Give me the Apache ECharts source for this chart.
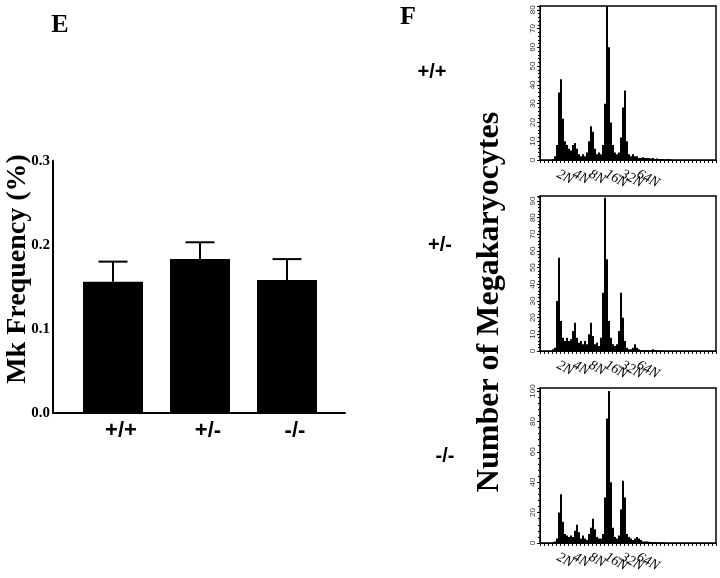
<!DOCTYPE html>
<html>
<head>
<meta charset="utf-8">
<script src="https://cdn.jsdelivr.net/npm/echarts@6/dist/echarts.min.js"></script>
<style>html,body{margin:0;padding:0;background:#fff;}#c{width:720px;height:578px;}</style>
</head>
<body>
<div id="c"></div>
<script>
// ---- Panel E data ----
const categories = ['+/+', '+/-', '-/-'];
const mkFrequency = [0.156, 0.183, 0.158];
const mkError = [0.024, 0.020, 0.025];

// ---- Panel F data (ploidy histograms, 2-px channels) ----
const ploidyLabels = ['2N', '4N', '8N', '16N', '32N', '64N'];
const ploidyBins = [10, 18, 26, 34, 42, 50];
const histWT = [0,0,0,0,0,0,0.5,2,8,36,43,22,10,8,6,5,8,9,6,3,2,3,2,4,10,18,15,6,3,4,3,8,30,82,60,20,8,4,3,4,12,28,37,10,3,2,3,2,2,1,1,1.5,1,1,1,0.8,1,0.5,0.8,0.5,0.5,0.5,0.3,0.5,0.3,0.3,
  0,0,0,0,0,0,0,0,0,0,0,0,0,0,0,0,0,0,0,0,0,0];
const histHet = [0,0,0,0,0,0,1,2,30,56,18,8,6,8,6,7,12,17,8,5,6,4,6,4,10,17,9,4,5,3,8,35,92,55,18,8,4,3,4,12,35,20,6,2,1,1,2,4,2,1,0.5,0.5,0.5,0.3,0.3,0.3,1,0.3,0.3,0.3,0.3,
  0,0,0,0,0,0,0,0,0,0,0,0,0,0,0,0,0,0,0,0,0,0,0,0,0,0,0];
const histKO = [0,0,0,0,0,0,0.5,1,3,20,32,14,6,5,4,5,4,8,12,7,3,5,3,2,6,10,16,9,4,3,3,6,30,82,100,40,10,4,3,5,22,41,30,6,4,3,2,3,4,3,2,1,1,1,0.8,0.5,0.5,0.5,0.5,0.3,0.3,0.3,0.3,
  0,0,0,0,0,0,0,0,0,0,0,0,0,0,0,0,0,0,0,0,0,0,0,0,0];
const histMax = [82, 93, 102];
const histInterval = [10, 10, 20];

const binNames = histWT.map((_, i) => String(i));
const serif = 'Liberation Serif';
const sans = 'Liberation Sans';

const histTops = [6, 196, 388];
const histHeights = [154, 155, 155];

const grids = [
  { left: 53, top: 160.7, width: 292, height: 252.3 },
  { left: 69.5, top: 160.7, width: 261, height: 252.3 }
];
histTops.forEach((t, k) => grids.push({
  left: 540, right: 4, top: t, height: histHeights[k],
  show: true, borderColor: '#000', borderWidth: 1.5
}));

const xAxes = [
  { gridIndex: 0, type: 'value', min: 0, max: 1,
    axisLine: { show: true, lineStyle: { color: '#000', width: 2 } },
    axisTick: { show: false }, axisLabel: { show: false }, splitLine: { show: false } },
  { gridIndex: 1, type: 'category', data: categories,
    axisLine: { show: false }, axisTick: { show: false }, splitLine: { show: false },
    axisLabel: { color: '#000', fontFamily: sans, fontWeight: 'bold', fontSize: 22, margin: 7, padding: [0, 0, 0, 16] } }
];
const yAxes = [
  { gridIndex: 0, type: 'value', min: 0, max: 0.3, interval: 0.1,
    axisLine: { show: true, lineStyle: { color: '#000', width: 2 } },
    axisTick: { show: false }, splitLine: { show: false },
    axisLabel: { color: '#000', fontFamily: serif, fontWeight: 'bold', fontSize: 15, margin: 3,
      formatter: v => v.toFixed(1) } },
  { gridIndex: 1, type: 'value', min: 0, max: 0.3, show: false }
];
[0, 1, 2].forEach(k => {
  xAxes.push({
    gridIndex: 2 + k, type: 'category', data: binNames,
    axisLine: { show: true, lineStyle: { color: '#000', width: 1 } },
    axisTick: { show: true, interval: 1, length: 3, lineStyle: { color: '#000' } },
    splitLine: { show: false },
    axisLabel: { show: false }
  });
  yAxes.push({
    gridIndex: 2 + k, type: 'value', min: 0, max: histMax[k], interval: histInterval[k],
    axisLine: { show: true, lineStyle: { color: '#000', width: 1 } },
    axisTick: { show: true, length: 3, lineStyle: { color: '#000' } },
    minorTick: { show: true, splitNumber: 5, length: 2, lineStyle: { color: '#000' } },
    splitLine: { show: false },
    axisLabel: { rotate: 90, fontSize: 8, color: '#333', margin: 3, showMaxLabel: false, fontFamily: sans }
  });
});

const series = [
  { type: 'bar', xAxisIndex: 1, yAxisIndex: 1, data: mkFrequency, barWidth: 60,
    itemStyle: { color: '#000' }, z: 2 },
  { type: 'custom', xAxisIndex: 1, yAxisIndex: 1, z: 3,
    data: mkFrequency.map((m, i) => [i, m, m + mkError[i]]),
    renderItem: (params, api) => {
      const base = api.coord([api.value(0), api.value(1)]);
      const top = api.coord([api.value(0), api.value(2)]);
      const half = 14.5;
      const st = { stroke: '#000', lineWidth: 2 };
      return { type: 'group', children: [
        { type: 'line', shape: { x1: base[0], y1: base[1], x2: top[0], y2: top[1] }, style: st },
        { type: 'line', shape: { x1: top[0] - half, y1: top[1], x2: top[0] + half, y2: top[1] }, style: st }
      ] };
    } }
];
[histWT, histHet, histKO].forEach((h, k) => {
  series.push({
    type: 'bar', xAxisIndex: 2 + k, yAxisIndex: 2 + k, data: h,
    barCategoryGap: '0%', itemStyle: { color: '#000' }, animation: false
  });
  // ploidy tick labels, placed on the x axis through the library's scale
  series.push({
    type: 'scatter', xAxisIndex: 2 + k, yAxisIndex: 2 + k, silent: true, clip: false,
    symbolSize: 0, itemStyle: { color: 'rgba(0,0,0,0)', opacity: 1 },
    data: ploidyBins.map((b, i) => ({ value: [b, 0], name: ploidyLabels[i] })),
    label: {
      show: true, formatter: '{b}', position: 'bottom', distance: 7,
      rotate: -28, align: 'left', verticalAlign: 'top', opacity: 1,
      fontFamily: serif, fontStyle: 'italic', fontSize: 14, color: '#000'
    },
    z: 5
  });
});

function txt(text, x, y, font, rot) {
  return { type: 'text', x: x, y: y, rotation: rot || 0, z: 10,
    style: { text: text, font: font, fill: '#000', textAlign: 'center', textVerticalAlign: 'middle', align: 'center', verticalAlign: 'middle' } };
}

const chart = echarts.init(document.getElementById('c'), null, { renderer: 'canvas' });
chart.setOption({
  animation: false,
  backgroundColor: '#fff',
  grid: grids,
  xAxis: xAxes,
  yAxis: yAxes,
  series: series,
  graphic: [
    txt('E', 60, 25, 'bold 26px "Liberation Serif"'),
    txt('F', 408, 17, 'bold 26px "Liberation Serif"'),
    txt('+/+', 432, 72, 'bold 20px "Liberation Sans"'),
    txt('+/-', 440, 245, 'bold 20px "Liberation Sans"'),
    txt('-/-', 445, 456, 'bold 20px "Liberation Sans"'),
    txt('Mk Frequency (%)', 18, 269, 'bold 28px "Liberation Serif"', Math.PI / 2),
    txt('Number of Megakaryocytes', 490, 302, 'bold 32px "Liberation Serif"', Math.PI / 2)
  ]
});
</script>
</body>
</html>
